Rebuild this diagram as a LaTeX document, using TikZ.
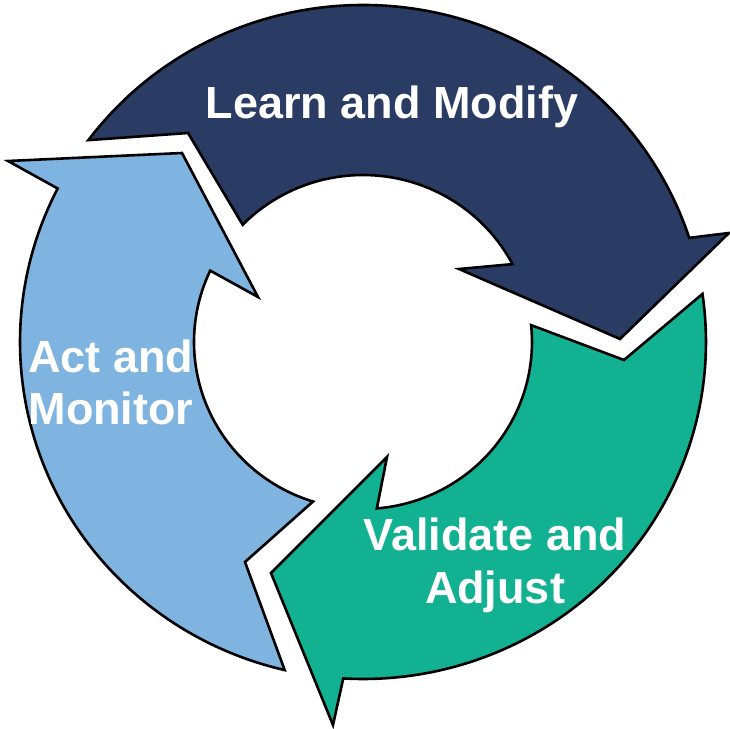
\documentclass[tikz,border=0pt]{standalone}
\usepackage{fontspec}
\setmainfont{Liberation Sans}
\definecolor{learnblue}{RGB}{42,60,99}
\definecolor{actblue}{RGB}{127,179,224}
\definecolor{validgreen}{RGB}{17,177,146}
\tikzset{
    cyclepart/.style={draw=black, line width=1.3pt, line join=miter},
    cycletext/.style={text=white, align=center, inner sep=0pt, font=\bfseries\fontsize{22.5}{26.5}\selectfont}
}
\begin{document}
\begin{tikzpicture}[x=0.5pt,y=0.5pt]
                \useasboundingbox (-363,-387) rectangle (367,342);
                \draw[cyclepart, fill=learnblue] (143.2:343 and 337) arc[start angle=143.2, end angle=18, x radius=343, y radius=337]
                    -- (366,109) -- (257,3) -- (96,73) -- (27.8:169 and 167)
                    arc[start angle=27.8, end angle=135.4, x radius=169, y radius=167] -- (-175,209) -- cycle;
                \draw[cyclepart, fill=actblue] (256.8:343 and 337) arc[start angle=256.8, end angle=152.9, x radius=343, y radius=337]
                    -- (-355,181) -- (-181,189) -- (-105,45) -- (154.7:169 and 167)
                    arc[start angle=154.7, end angle=252.8, x radius=169, y radius=167] -- (-118,-220) -- cycle;
                \draw[cyclepart, fill=validgreen] (8.2:343 and 337) arc[start angle=8.2, end angle=-93.3, x radius=343, y radius=337]
                    -- (-30,-383) -- (-92,-231) -- (24,-115) -- (-85.3:169 and 167)
                    arc[start angle=-85.3, end angle=5.8, x radius=169, y radius=167] -- (261,-18) -- cycle;
                \node[cycletext, anchor=base] (learn) at (29,223) {Learn and Modify};
                \node[cycletext, anchor=base] (act) at (-252,-83) {Act and\\Monitor};
                \node[cycletext, anchor=base] (validate) at (132,-261) {Validate and\\Adjust};
\end{tikzpicture}
\end{document}
